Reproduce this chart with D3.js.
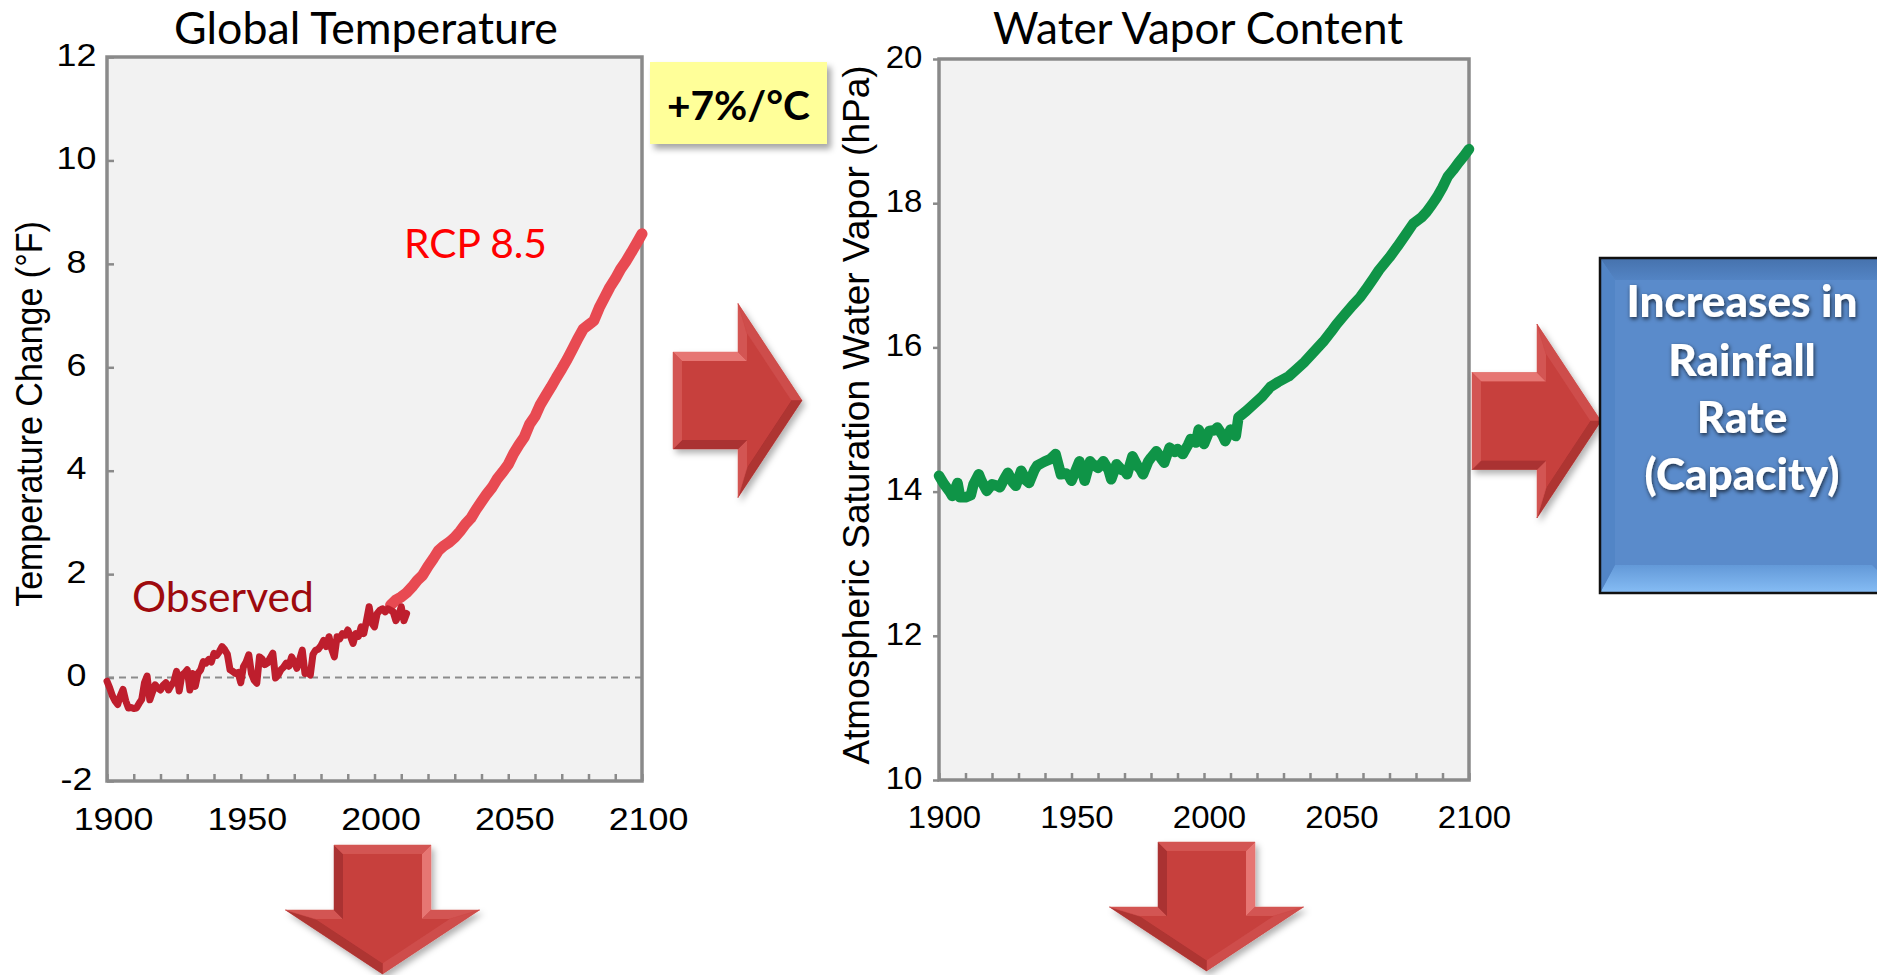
<!DOCTYPE html>
<html>
<head>
<meta charset="utf-8">
<script src="https://cdn.jsdelivr.net/npm/d3@7/dist/d3.min.js"></script>
<style>
  html, body { margin: 0; padding: 0; background: #ffffff; }
  svg { display: block; }
</style>
</head>
<body>
<svg id="fig" width="1877" height="975"></svg>
<script>
// ---------------- data ----------------
// Observed global temperature change (°F), annual
const obsYears = d3.range(1900, 2013);
const obsTemp = [
  -0.07, -0.20, -0.35, -0.45, -0.52, -0.35, -0.23, -0.45, -0.59, -0.58,
  -0.60, -0.59, -0.50, -0.42, -0.10,  0.03, -0.43, -0.28, -0.14, -0.20,
  -0.24, -0.15, -0.10, -0.24, -0.15, -0.08,  0.12, -0.26,  0.05,  0.09,
   0.15, -0.24,  0.08, -0.17,  0.08,  0.15,  0.31,  0.28,  0.35,  0.30,
   0.47,  0.43,  0.50,  0.60,  0.54,  0.45,  0.15,  0.12,  0.08,  0.10,
  -0.10,  0.21,  0.30,  0.44,  0.08, -0.05, -0.11,  0.40,  0.36,  0.25,
   0.28,  0.38,  0.47, -0.01,  0.05,  0.15,  0.20,  0.28,  0.22,  0.40,
   0.30,  0.18,  0.35,  0.53,  0.08,  0.10,  0.05,  0.45,  0.53,  0.55,
   0.62,  0.72,  0.60,  0.79,  0.55,  0.40,  0.79,  0.75,  0.85,  0.82,
   0.92,  0.80,  0.66,  0.85,  0.80,  0.98,  0.85,  1.10,  1.37,  1.05,
   0.98,  1.24,  1.30,  1.33,  1.27,  1.33,  1.30,  1.27,  1.10,  1.20,
   1.37,  1.10,  1.24
];

// RCP 8.5 projected temperature change (°F)
const rcpYears = d3.range(2006, 2101, 2);
const rcpTemp = [
  1.40, 1.50, 1.56, 1.64, 1.75, 1.88, 1.98, 2.15, 2.30, 2.46,
  2.55, 2.62, 2.71, 2.83, 2.97, 3.08, 3.25, 3.40, 3.55, 3.68,
  3.85, 3.98, 4.12, 4.33, 4.50, 4.65, 4.90, 5.05, 5.28, 5.45,
  5.62, 5.80, 5.97, 6.15, 6.35, 6.55, 6.74, 6.82, 6.90, 7.15,
  7.35, 7.55, 7.71, 7.90, 8.05, 8.22, 8.40, 8.58
];

// Atmospheric saturation water vapor (hPa)
const vaporYears = [
  1900, 1902, 1904, 1905, 1907, 1908, 1910, 1912, 1913, 1915,
  1916, 1918, 1920, 1922, 1923, 1925, 1926, 1928, 1929, 1931,
  1933, 1934, 1936, 1937, 1939, 1940, 1942, 1944, 1946, 1948,
  1949, 1950, 1953, 1955, 1957, 1958, 1960, 1962, 1964, 1965,
  1967, 1969, 1970, 1971, 1973, 1975, 1976, 1977, 1979, 1980,
  1982, 1984, 1985, 1987, 1989, 1990, 1992, 1994, 1995, 1997,
  1998, 2000, 2002, 2004, 2005, 2007, 2008, 2010, 2012, 2013,
  2016, 2019, 2022, 2025, 2028, 2032, 2035, 2038, 2041, 2045,
  2048, 2050, 2053, 2056, 2059, 2061, 2064, 2066, 2070, 2073,
  2076, 2079, 2082, 2084, 2086, 2088, 2090, 2092, 2094, 2096,
  2098, 2100
];
const vaporValues = [
  14.22, 14.10, 14.00, 13.94, 14.12, 13.92, 13.92, 13.95, 14.10, 14.24,
  14.15, 14.01, 14.10, 14.08, 14.06, 14.20, 14.26, 14.12, 14.08, 14.29,
  14.15, 14.12, 14.30, 14.36, 14.40, 14.42, 14.45, 14.52, 14.24, 14.25,
  14.22, 14.15, 14.42, 14.15, 14.42, 14.38, 14.33, 14.42, 14.30, 14.17,
  14.38, 14.30, 14.29, 14.24, 14.49, 14.35, 14.31, 14.24, 14.42, 14.47,
  14.56, 14.45, 14.40, 14.61, 14.55, 14.59, 14.52, 14.65, 14.73, 14.68,
  14.86, 14.66, 14.84, 14.85, 14.89, 14.78, 14.70, 14.86, 14.77, 15.03,
  15.12, 15.22, 15.32, 15.45, 15.52, 15.60, 15.70, 15.80, 15.92, 16.08,
  16.22, 16.32, 16.45, 16.58, 16.70, 16.80, 16.96, 17.07, 17.25, 17.40,
  17.56, 17.72, 17.80, 17.88, 17.98, 18.09, 18.22, 18.37, 18.46, 18.56,
  18.65, 18.75
];

const yearTicks = [1900, 1950, 2000, 2050, 2100];
const decadeTicks = d3.range(1900, 2101, 10);
const tempTicks = [-2, 0, 2, 4, 6, 8, 10, 12];
const vaporTicks = [10, 12, 14, 16, 18, 20];

const boxLines = ["Increases in", "Rainfall", "Rate", "(Capacity)"];

// ---------------- setup ----------------
const svg = d3.select("#fig");
const defs = svg.append("defs");
const ARIAL = "'Liberation Sans', Arial, sans-serif";
const HUMAN = "Lato, 'Open Sans', sans-serif";
const plain = d => String(d);   // "-2" with a hyphen, as on the slide

function shadow(id, dx, dy, sd, op) {
  defs.append("filter").attr("id", id)
    .attr("x", "-20%").attr("y", "-20%").attr("width", "150%").attr("height", "150%")
    .append("feDropShadow")
    .attr("dx", dx).attr("dy", dy).attr("stdDeviation", sd)
    .attr("flood-color", "#000").attr("flood-opacity", op);
}
shadow("noteShadow", 4, 5, 3, 0.35);
shadow("arrowShadow", 3, 4, 3, 0.3);
shadow("textShadow", 1, 2, 2.2, 0.7);

function fitFont(sel, target) {
  const fs = parseFloat(sel.attr("font-size"));
  const w = sel.node().getComputedTextLength();
  sel.attr("font-size", (fs * target / w).toFixed(2));
  return fs * target / w;
}

// ---------------- panels ----------------
const xTemp = d3.scaleLinear().domain([1900, 2100]).range([107, 642]);
const yTemp = d3.scaleLinear().domain([-2, 12]).range([781, 57]);
const xVap = d3.scaleLinear().domain([1900, 2100]).range([939, 1469]);
const yVap = d3.scaleLinear().domain([10, 20]).range([780, 59]);

function drawPanel(xS, yS, yTicks, o) {
  const g = svg.append("g");
  const [x0, x1] = xS.range();
  const [y1, y0] = yS.range();
  g.append("rect").attr("x", x0).attr("y", y0)
    .attr("width", x1 - x0).attr("height", y1 - y0).attr("fill", "#f2f2f2");

  // decade ticks along the bottom edge, pointing inward
  const minor = g.append("g").attr("transform", `translate(0,${y1})`)
    .call(d3.axisBottom(xS).tickValues(decadeTicks).tickSize(-7).tickFormat(""));
  minor.select(".domain").remove();
  minor.selectAll("line").attr("stroke", "#8a8a8a").attr("stroke-width", 2.5);

  // year labels
  const lab = g.append("g").attr("transform", `translate(0,${y1})`)
    .call(d3.axisBottom(xS).tickValues(yearTicks).tickSize(0).tickFormat(plain));
  lab.select(".domain").remove();
  lab.selectAll("text")
    .attr("font-family", ARIAL).attr("font-size", 32).attr("fill", "#000")
    .attr("dy", null).attr("y", o.xLabelBase - y1)
    .attr("x", o.xLabelShift / o.stretch)
    .attr("transform", `scale(${o.stretch},1)`);

  // value axis
  const ya = g.append("g").attr("transform", `translate(${x0},0)`)
    .call(d3.axisLeft(yS).tickValues(yTicks).tickSize(o.yTickSize).tickFormat(plain));
  ya.select(".domain").remove();
  ya.selectAll("line").attr("stroke", "#8a8a8a").attr("stroke-width", 2.5);
  ya.selectAll("text")
    .attr("font-family", ARIAL).attr("font-size", 32).attr("fill", "#000")
    .attr("text-anchor", "middle")
    .attr("x", (o.yLabelCenter - x0) / o.stretch)
    .attr("y", -3).attr("dy", "0.35em")
    .attr("transform", `scale(${o.stretch},1)`);

  return g;
}

const tempPanel = drawPanel(xTemp, yTemp, tempTicks,
  { xLabelBase: 830, xLabelShift: 6, stretch: 1.12, yTickSize: -7, yLabelCenter: 76.5 });
const vapPanel = drawPanel(xVap, yVap, vaporTicks,
  { xLabelBase: 828, xLabelShift: 5, stretch: 1.03, yTickSize: 6, yLabelCenter: 904 });

// zero reference line
tempPanel.append("line")
  .attr("x1", xTemp(1900)).attr("x2", xTemp(2100))
  .attr("y1", yTemp(0)).attr("y2", yTemp(0))
  .attr("stroke", "#8c8c8c").attr("stroke-width", 2).attr("stroke-dasharray", "7,5");

// panel frames, beneath the series
[[xTemp, yTemp, tempPanel], [xVap, yVap, vapPanel]].forEach(([xS, yS, g]) => {
  g.append("rect")
    .attr("x", xS.range()[0]).attr("y", yS.range()[1])
    .attr("width", xS.range()[1] - xS.range()[0])
    .attr("height", yS.range()[0] - yS.range()[1])
    .attr("fill", "none").attr("stroke", "#8a8a8a").attr("stroke-width", 3.5);
});

// series
const tempLine = d3.line().x(d => xTemp(d[0])).y(d => yTemp(d[1]));
const vapLine = d3.line().x(d => xVap(d[0])).y(d => yVap(d[1]));

tempPanel.append("path")
  .datum(d3.zip(rcpYears, rcpTemp))
  .attr("d", tempLine).attr("fill", "none")
  .attr("stroke", "#e84a52").attr("stroke-width", 11)
  .attr("stroke-linejoin", "round").attr("stroke-linecap", "round");

tempPanel.append("path")
  .datum(d3.zip(obsYears, obsTemp))
  .attr("d", tempLine).attr("fill", "none")
  .attr("stroke", "#be1e2d").attr("stroke-width", 7)
  .attr("stroke-linejoin", "round").attr("stroke-linecap", "round");

vapPanel.append("path")
  .datum(d3.zip(vaporYears, vaporValues))
  .attr("d", vapLine).attr("fill", "none")
  .attr("stroke", "#0f9447").attr("stroke-width", 10.5)
  .attr("stroke-linejoin", "round").attr("stroke-linecap", "round");

// axis titles
svg.append("text")
  .attr("transform", "translate(42,414) scale(1.09,1) rotate(-90)")
  .attr("text-anchor", "middle").attr("font-family", ARIAL).attr("font-size", 34)
  .attr("fill", "#000").text("Temperature Change (°F)");
svg.append("text")
  .attr("transform", "translate(869,415) rotate(-90)")
  .attr("text-anchor", "middle").attr("font-family", ARIAL).attr("font-size", 37)
  .attr("fill", "#000").text("Atmospheric Saturation Water Vapor (hPa)");

// panel titles
const t1 = svg.append("text").attr("x", 366).attr("y", 44).attr("text-anchor", "middle")
  .attr("font-family", HUMAN).attr("font-size", 44).attr("fill", "#000").text("Global Temperature");
fitFont(t1, 384);
const t2 = svg.append("text").attr("x", 1198).attr("y", 44).attr("text-anchor", "middle")
  .attr("font-family", HUMAN).attr("font-size", 44).attr("fill", "#000").text("Water Vapor Content");
fitFont(t2, 410);

// series labels
const rcpLab = svg.append("text").attr("x", 404).attr("y", 258)
  .attr("font-family", HUMAN).attr("font-size", 44).attr("fill", "#ff0000").text("RCP 8.5");
fitFont(rcpLab, 143);
const obsLab = svg.append("text").attr("x", 132).attr("y", 612)
  .attr("font-family", HUMAN).attr("font-size", 44).attr("fill", "#9e0a0e").text("Observed");
fitFont(obsLab, 182);

// scaling note
const note = svg.append("g");
note.append("rect").attr("x", 650).attr("y", 62).attr("width", 177).attr("height", 82)
  .attr("fill", "#ffff99").attr("filter", "url(#noteShadow)");
const noteText = note.append("text").attr("x", 738.5).attr("y", 120).attr("text-anchor", "middle")
  .attr("font-family", HUMAN).attr("font-weight", 700).attr("font-size", 44)
  .attr("fill", "#000").text("+7%/°C");
fitFont(noteText, 143);

// ---------------- bevelled arrows ----------------
const arrowShape = { body: 65, len: 129, bodyHalf: 48.5, headHalf: 97, bevel: 9 };

function insetPolygon(pts, d) {
  const n = pts.length;
  const offs = pts.map((p, i) => {
    const q = pts[(i + 1) % n];
    const dx = q[0] - p[0], dy = q[1] - p[1], len = Math.hypot(dx, dy);
    const nx = -dy / len, ny = dx / len;
    return { p: [p[0] + nx * d, p[1] + ny * d], v: [dx, dy] };
  });
  return pts.map((_, i) => {
    const a = offs[(i - 1 + n) % n], b = offs[i];
    const den = a.v[0] * b.v[1] - a.v[1] * b.v[0];
    const t = ((b.p[0] - a.p[0]) * b.v[1] - (b.p[1] - a.p[1]) * b.v[0]) / den;
    return [a.p[0] + t * a.v[0], a.p[1] + t * a.v[1]];
  });
}

const faceColor = "#c7403e";
const lightDir = [-0.35, -0.94];
const lighter = d3.interpolateRgb(faceColor, "#f38c89");
const darker = d3.interpolateRgb(faceColor, "#7a1c1b");

function drawArrow(origin, angleDeg) {
  const s = arrowShape;
  const local = [
    [0, -s.bodyHalf], [s.body, -s.bodyHalf], [s.body, -s.headHalf],
    [s.len, 0], [s.body, s.headHalf], [s.body, s.bodyHalf], [0, s.bodyHalf]
  ];
  const inner = insetPolygon(local, s.bevel);
  const a = angleDeg * Math.PI / 180, c = Math.cos(a), sn = Math.sin(a);
  const scr = p => [origin[0] + p[0] * c - p[1] * sn, origin[1] + p[0] * sn + p[1] * c];
  const g = svg.append("g").attr("filter", "url(#arrowShadow)");
  const line = d3.line();
  g.append("path").attr("d", line(local.map(scr)) + "Z").attr("fill", faceColor);
  const n = local.length;
  local.forEach((p, i) => {
    const q = local[(i + 1) % n];
    const dx = q[0] - p[0], dy = q[1] - p[1], len = Math.hypot(dx, dy);
    const out = [dy / len, -dx / len];
    const k = out[0] * lightDir[0] + out[1] * lightDir[1];
    const col = k >= 0 ? lighter(k * 0.75) : darker(-k * 0.4);
    const quad = [p, q, inner[(i + 1) % n], inner[i]].map(scr);
    g.append("path").attr("d", line(quad) + "Z").attr("fill", col)
      .attr("stroke", col).attr("stroke-width", 0.5);
  });
  g.append("path").attr("d", line(inner.map(scr)) + "Z").attr("fill", faceColor);
}

drawArrow([673, 400.5], 0);
drawArrow([1472, 421], 0);
drawArrow([382.5, 845], 90);
drawArrow([1206.5, 842], 90);

// ---------------- outcome box ----------------
const bx = 1600, by = 258, bw = 300, bh = 335;
const topBevel = 22, botBevel = 28, leftBevel = 15;
const gTop = defs.append("linearGradient").attr("id", "bevTop").attr("x1", 0).attr("y1", 0).attr("x2", 0).attr("y2", 1);
gTop.append("stop").attr("offset", 0).attr("stop-color", "#4672ad");
gTop.append("stop").attr("offset", 1).attr("stop-color", "#5384c4");
const gBot = defs.append("linearGradient").attr("id", "bevBot").attr("x1", 0).attr("y1", 0).attr("x2", 0).attr("y2", 1);
gBot.append("stop").attr("offset", 0).attr("stop-color", "#6399d8");
gBot.append("stop").attr("offset", 1).attr("stop-color", "#86bdf5");

const box = svg.append("g");
box.append("rect").attr("x", bx).attr("y", by).attr("width", bw).attr("height", bh).attr("fill", "#5a8bcb");
const poly = pts => d3.line()(pts) + "Z";
box.append("path").attr("d", poly([[bx, by], [bx + bw, by], [bx + bw - topBevel, by + topBevel], [bx + leftBevel, by + topBevel]]))
  .attr("fill", "url(#bevTop)");
box.append("path").attr("d", poly([[bx, by + bh], [bx + bw, by + bh], [bx + bw - botBevel, by + bh - botBevel], [bx + leftBevel, by + bh - botBevel]]))
  .attr("fill", "url(#bevBot)");
box.append("path").attr("d", poly([[bx, by], [bx + leftBevel, by + topBevel], [bx + leftBevel, by + bh - botBevel], [bx, by + bh]]))
  .attr("fill", "#5285c6");
box.append("rect").attr("x", bx).attr("y", by).attr("width", bw).attr("height", bh)
  .attr("fill", "none").attr("stroke", "#111").attr("stroke-width", 2.5);

const boxText = box.append("g").attr("filter", "url(#textShadow)");
const lineBase = [317, 376, 433, 490];
const first = boxText.append("text").attr("x", 1742).attr("y", lineBase[0])
  .attr("text-anchor", "middle").attr("font-family", HUMAN).attr("font-weight", 900)
  .attr("font-size", 44).attr("fill", "#fff").text(boxLines[0]);
const boxFs = fitFont(first, 231);
boxLines.slice(1).forEach((t, i) => {
  boxText.append("text").attr("x", 1742).attr("y", lineBase[i + 1])
    .attr("text-anchor", "middle").attr("font-family", HUMAN).attr("font-weight", 900)
    .attr("font-size", boxFs.toFixed(2)).attr("fill", "#fff").text(t);
});
</script>
</body>
</html>
